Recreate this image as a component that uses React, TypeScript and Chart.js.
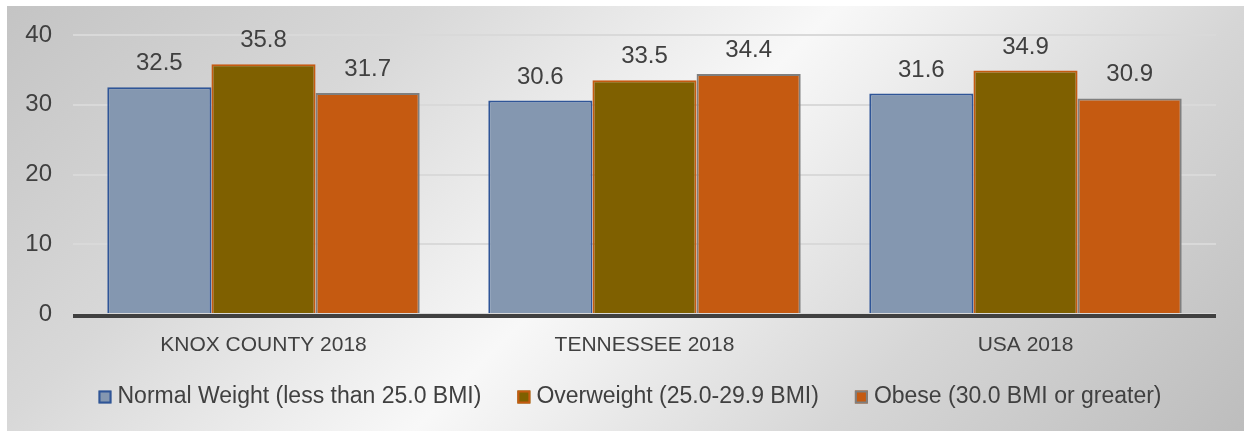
import React, { useEffect, useRef } from "react";
import { Chart, registerables } from "chart.js";

Chart.register(...registerables);

const categories = ["KNOX COUNTY 2018", "TENNESSEE 2018", "USA 2018"];
const seriesNames = [
  "Normal Weight (less than 25.0 BMI)",
  "Overweight (25.0-29.9 BMI)",
  "Obese (30.0 BMI or greater)",
];
const normalWeight = [32.5, 30.6, 31.6];
const overweight = [35.8, 33.5, 34.9];
const obese = [31.7, 34.4, 30.9];
const yTicks = [0, 10, 20, 30, 40];

const fills = ["#8497B0", "#7F6000", "#C55A11"];
const borders = ["#2F5597", "#C55A11", "#7F7F7F"];
const textColor = "#404040";
const fontFamily = '"Liberation Sans", Arial, sans-serif';

const W = 1237;
const H = 425;

const backgroundPlugin = {
  id: "bgGradient",
  beforeDraw(chart: any) {
    const { ctx, width, height } = chart;
    const d = (width + height) / 2;
    const g = ctx.createLinearGradient(0, 0, d, d);
    g.addColorStop(0, "#c4c4c4");
    g.addColorStop(0.25, "#d8d8d8");
    g.addColorStop(0.5, "#f8f8f8");
    g.addColorStop(0.75, "#d6d6d6");
    g.addColorStop(1, "#bdbdbd");
    ctx.save();
    ctx.fillStyle = g;
    ctx.fillRect(0, 0, width, height);
    ctx.restore();
  },
};

const axisLinePlugin = {
  id: "axisLine",
  afterDatasetsDraw(chart: any) {
    const { ctx, chartArea } = chart;
    ctx.save();
    ctx.fillStyle = "#404040";
    ctx.fillRect(chartArea.left, chartArea.bottom, chartArea.right - chartArea.left, 4);
    ctx.restore();
  },
};

const dataLabelPlugin = {
  id: "valueLabels",
  afterDatasetsDraw(chart: any) {
    const { ctx } = chart;
    ctx.save();
    ctx.font = "24px " + fontFamily;
    ctx.fillStyle = textColor;
    ctx.textAlign = "center";
    ctx.textBaseline = "alphabetic";
    chart.data.datasets.forEach((ds: any, i: number) => {
      const meta = chart.getDatasetMeta(i);
      meta.data.forEach((el: any, j: number) => {
        ctx.fillText(ds.data[j].toFixed(1), el.x, el.y - 17);
      });
    });
    ctx.restore();
  },
};

const legendPlugin = {
  id: "customLegend",
  afterDraw(chart: any) {
    const { ctx } = chart;
    ctx.save();
    ctx.font = "23px " + fontFamily;
    const box = 13;
    const gapBoxText = 6;
    const gapItems = 36;
    const widths = seriesNames.map((s) => ctx.measureText(s).width);
    const total =
      widths.reduce((a, b) => a + b, 0) +
      seriesNames.length * (box + gapBoxText) +
      (seriesNames.length - 1) * gapItems;
    let x = 623 - total / 2;
    const cy = 391;
    ctx.textBaseline = "middle";
    ctx.textAlign = "left";
    seriesNames.forEach((name, i) => {
      ctx.fillStyle = fills[i];
      ctx.fillRect(x, cy - box / 2, box, box);
      ctx.strokeStyle = borders[i];
      ctx.lineWidth = 2;
      ctx.strokeRect(x + 1, cy - box / 2 + 1, box - 2, box - 2);
      x += box + gapBoxText;
      ctx.fillStyle = textColor;
      ctx.fillText(name, x, cy);
      x += widths[i] + gapItems;
    });
    ctx.restore();
  },
};

export default function App() {
  const ref = useRef<HTMLCanvasElement | null>(null);

  useEffect(() => {
    if (!ref.current) return;
    const values = [normalWeight, overweight, obese];
    const chart = new Chart(ref.current, {
      type: "bar",
      data: {
        labels: categories,
        datasets: seriesNames.map((name, i) => ({
          label: name,
          data: values[i],
          backgroundColor: fills[i],
          borderColor: borders[i],
          borderWidth: 2,
          borderSkipped: "start",
          categoryPercentage: 0.82,
          barPercentage: 1.0,
        })),
      },
      options: {
        responsive: false,
        animation: false,
        layout: { padding: { left: 0, top: 29, right: 28, bottom: 0 } },
        plugins: {
          legend: { display: false },
          tooltip: { enabled: false },
          title: { display: false },
        },
        scales: {
          x: {
            grid: { display: false, drawTicks: false },
            border: { display: false },
            ticks: {
              color: textColor,
              padding: 19,
              font: { family: fontFamily, size: 21 },
            },
            afterFit(scale: any) {
              scale.height = H - 308;
              scale.paddingLeft = 0;
              scale.paddingRight = 0;
            },
          },
          y: {
            min: 0,
            max: 40,
            afterBuildTicks(scale: any) {
              scale.ticks = yTicks.map((v) => ({ value: v }));
            },
            grid: { color: "#d9d9d9", lineWidth: 2, drawTicks: false },
            border: { display: false },
            ticks: {
              color: textColor,
              padding: 21,
              font: { family: fontFamily, size: 24 },
            },
            afterFit(scale: any) {
              scale.width = 66;
              scale.paddingTop = 0;
              scale.paddingBottom = 0;
            },
          },
        },
      },
      plugins: [backgroundPlugin, dataLabelPlugin, axisLinePlugin, legendPlugin],
    });
    return () => chart.destroy();
  }, []);

  return (
    <div style={{ position: "absolute", left: 7, top: 6, width: W, height: H }}>
      <canvas ref={ref} width={W} height={H} style={{ width: W, height: H, display: "block" }} />
    </div>
  );
}
